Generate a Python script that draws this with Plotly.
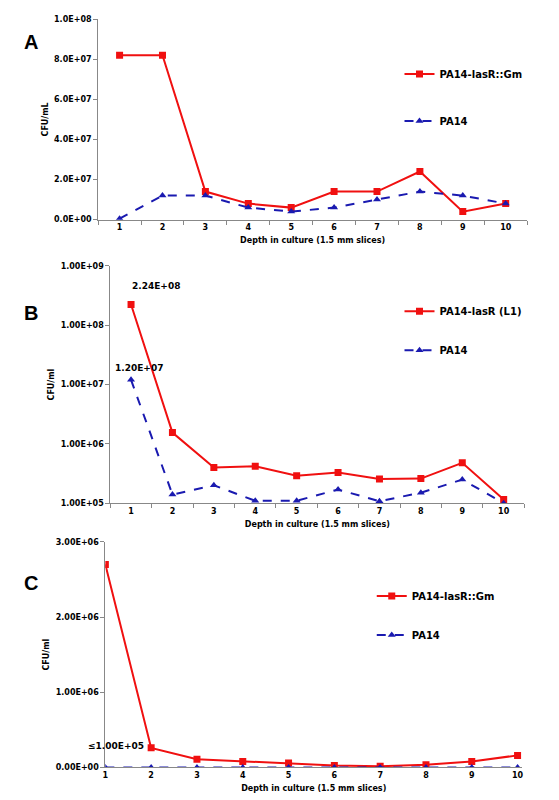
import math
import plotly.graph_objects as go

depth = list(range(1, 11))

# panel A (linear)
a_lasr = [8.2e7, 8.2e7, 1.4e7, 8e6, 6e6, 1.4e7, 1.4e7, 2.4e7, 4e6, 8e6]
a_pa14 = [5e5, 1.2e7, 1.2e7, 6e6, 4e6, 6e6, 1e7, 1.4e7, 1.2e7, 8e6]
a_ticks = [0, 2e7, 4e7, 6e7, 8e7, 1e8]
a_ticktext = ["0.0E+00", "2.0E+07", "4.0E+07", "6.0E+07", "8.0E+07", "1.0E+08"]

# panel B (log)
b_lasr = [2.24e8, 1.55e6, 4.0e5, 4.2e5, 2.9e5, 3.3e5, 2.55e5, 2.6e5, 4.8e5, 1.15e5]
b_pa14 = [1.2e7, 1.4e5, 2.0e5, 1.1e5, 1.1e5, 1.7e5, 1.08e5, 1.5e5, 2.5e5, 1.0e5]
b_ticks = [1e5, 1e6, 1e7, 1e8, 1e9]
b_ticktext = ["1.00E+05", "1.00E+06", "1.00E+07", "1.00E+08", "1.00E+09"]

# panel C (linear)
c_lasr = [2.7e6, 2.6e5, 1.1e5, 8e4, 6e4, 2.5e4, 1.5e4, 3.5e4, 8e4, 1.6e5]
c_pa14 = [0, 0, 0, 0, 0, 0, 0, 0, 0, 0]
c_ticks = [0, 1e6, 2e6, 3e6]
c_ticktext = ["0.00E+00", "1.00E+06", "2.00E+06", "3.00E+06"]

RED = "#f01010"
BLUE = "#1a1ab0"
FONT = "DejaVu Sans"
tickfont = dict(family=FONT, size=8, color="black", weight="bold")
xtitle = "Depth in culture (1.5 mm slices)"
titlefont = dict(family=FONT, size=8, color="black", weight="bold")

fig = go.Figure()

panels = [
    ("", a_lasr, a_pa14, "PA14-lasR::Gm", "legend"),
    ("2", b_lasr, b_pa14, "PA14-lasR (L1)", "legend2"),
    ("3", c_lasr, c_pa14, "PA14-lasR::Gm", "legend3"),
]
for sfx, red, blue, name, leg in panels:
    fig.add_trace(go.Scatter(x=depth, y=red, name=name, mode="lines+markers",
                             line=dict(color=RED, width=2), marker=dict(symbol="square", size=7, color=RED),
                             xaxis="x" + sfx, yaxis="y" + sfx, legend=leg, legendgroup=leg + "r"))
    fig.add_trace(go.Scatter(x=depth, y=blue, name="PA14", mode="lines+markers",
                             line=dict(color=BLUE, width=2, dash="dash"),
                             marker=dict(symbol="triangle-up", size=7, color=BLUE),
                             xaxis="x" + sfx, yaxis="y" + sfx, legend=leg, legendgroup=leg + "b"))

axis_common = dict(showgrid=False, zeroline=False, showline=True, linecolor="#888", linewidth=1,
                   tickfont=tickfont, ticks="outside", ticklen=4, tickcolor="#888")
cat_x = dict(axis_common, range=[0.5, 10.5], tickvals=depth, ticks="",
             minor=dict(tickvals=[i + 0.5 for i in range(0, 11)], ticks="outside", ticklen=4, tickcolor="#888"),
             title=dict(text=xtitle, font=titlefont, standoff=6))

legfont = dict(family=FONT, size=10, color="black", weight="bold")
fig.update_layout(
    width=559, height=800, margin=dict(l=0, r=0, t=0, b=0),
    plot_bgcolor="white", paper_bgcolor="white",
    xaxis=dict(cat_x, domain=[0.157, 0.930], anchor="y"),
    yaxis=dict(axis_common, domain=[0.7375, 0.991], range=[0, 1e8], tickvals=a_ticks, ticktext=a_ticktext,
               anchor="x", title=dict(text="CFU/mL", font=titlefont, standoff=4)),
    xaxis2=dict(cat_x, domain=[0.179, 0.925], anchor="y2"),
    yaxis2=dict(axis_common, type="log", domain=[0.379, 0.679], range=[5, 9], tickvals=b_ticks,
                ticktext=b_ticktext, anchor="x2", title=dict(text="CFU/ml", font=titlefont, standoff=4)),
    xaxis3=dict(axis_common, domain=[0.17, 0.921], range=[1, 10.1], tickvals=depth, ticks="", anchor="y3",
                title=dict(text=xtitle, font=titlefont, standoff=6)),
    yaxis3=dict(axis_common, domain=[0.045, 0.33], range=[0, 3e6], tickvals=c_ticks, ticktext=c_ticktext,
                anchor="x3", title=dict(text="CFU/ml", font=titlefont, standoff=4)),
    legend=dict(x=0.7, y=0.94, xanchor="left", yanchor="top", font=legfont, tracegroupgap=28,
                bgcolor="rgba(0,0,0,0)"),
    legend2=dict(x=0.7, y=0.64, xanchor="left", yanchor="top", font=legfont, tracegroupgap=20,
                 bgcolor="rgba(0,0,0,0)"),
    legend3=dict(x=0.65, y=0.28, xanchor="left", yanchor="top", font=legfont, tracegroupgap=20,
                 bgcolor="rgba(0,0,0,0)"),
    showlegend=True,
)

ann_font = dict(family=FONT, size=9, color="black", weight="bold")
letter_font = dict(family="Liberation Sans", size=20, color="black")
fig.add_annotation(x=0.02, y=0.978, xref="paper", yref="paper", text="<b>A</b>", showarrow=False, font=letter_font)
fig.add_annotation(x=0.02, y=0.62, xref="paper", yref="paper", text="<b>B</b>", showarrow=False, font=letter_font)
fig.add_annotation(x=0.02, y=0.262, xref="paper", yref="paper", text="<b>C</b>", showarrow=False, font=letter_font)
fig.add_annotation(x=1, y=math.log10(b_lasr[0]), xref="x2", yref="y2", text="2.24E+08", showarrow=False,
                   font=ann_font, xanchor="left", yshift=18, xshift=-1)
fig.add_annotation(x=1, y=math.log10(b_pa14[0]), xref="x2", yref="y2", text="1.20E+07", showarrow=False,
                   font=ann_font, yshift=12, xshift=8)
fig.add_annotation(x=2, y=c_lasr[1], xref="x3", yref="y3", text="≤1.00E+05", showarrow=False,
                   font=ann_font, xanchor="right", xshift=-5, yshift=2)

fig.write_html("out.html")
